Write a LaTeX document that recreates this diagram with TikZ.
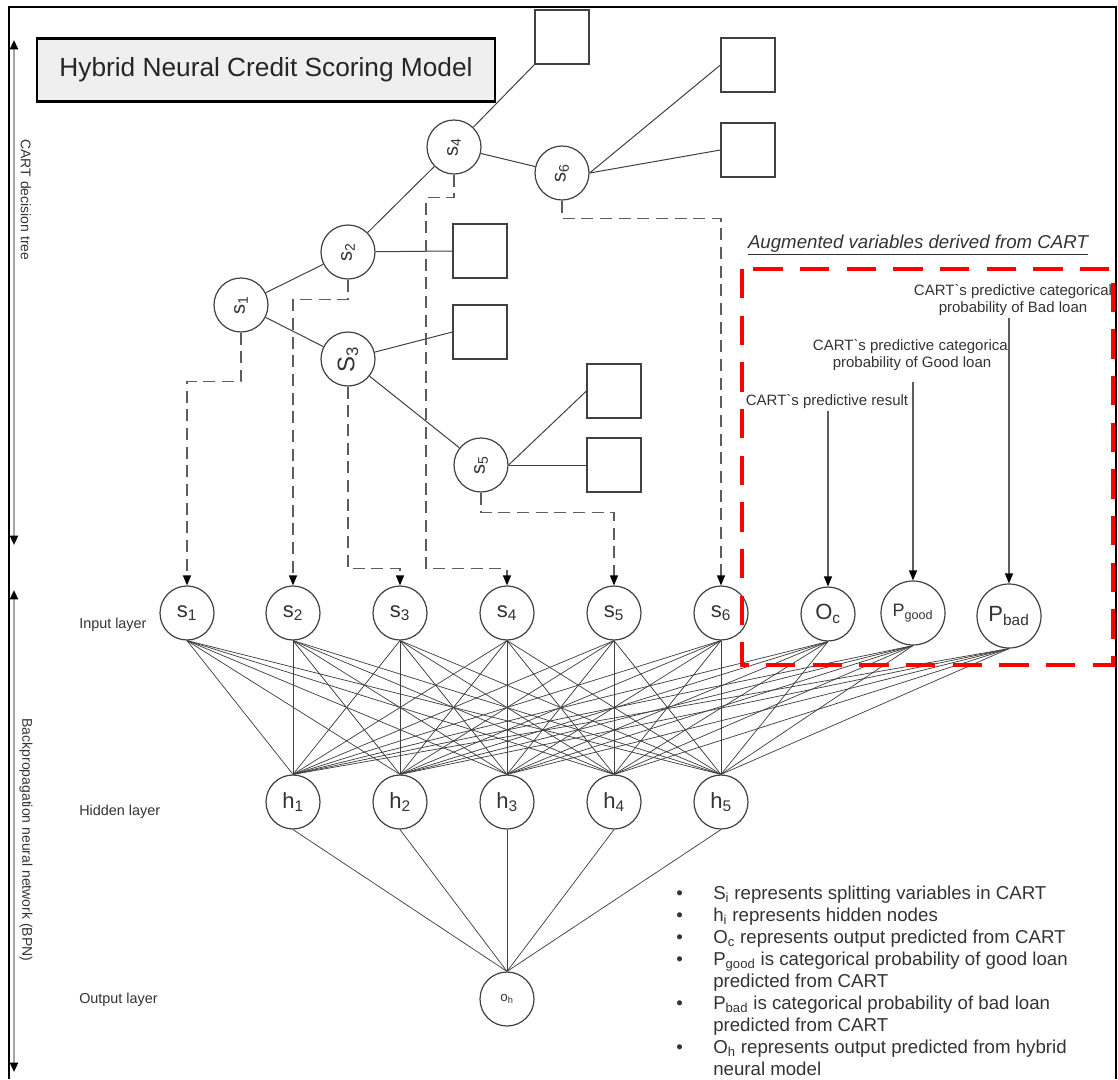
\documentclass[tikz,border=0pt]{standalone}
\usepackage{fontspec}
\setmainfont{Liberation Sans}
\usepackage{graphicx}
\usetikzlibrary{arrows.meta}
\definecolor{ink}{HTML}{404040}
\definecolor{txtgray}{HTML}{333333}
\definecolor{shaftgray}{HTML}{A6A6A6}
\definecolor{titlefill}{HTML}{EFEFEF}
\tikzset{neuron/.style={circle, draw=ink, line width=0.9pt, minimum size=40.5pt, inner sep=0pt, text=txtgray, font=\fontsize{16.5}{18}\selectfont},
  split/.style={neuron, font=\fontsize{15}{16}\selectfont},
  leaf/.style={draw=ink, line width=0.9pt, minimum size=40.5pt, inner sep=0pt},
  branch/.style={ink, line width=0.75pt},
  synapse/.style={ink, line width=0.55pt},
  feed/.style={ink!85, line width=1pt, dash pattern=on 9pt off 5pt, -{Triangle[length=7.5pt, width=6pt, color=black]}},
  pointer/.style={ink!85, line width=0.9pt, -{Triangle[length=7.5pt, width=6pt, color=black]}},
  span/.style={shaftgray, line width=1.6pt, {Triangle[length=7pt, width=6pt, color=black]}-{Triangle[length=7pt, width=6pt, color=black]}},
  note/.style={text=txtgray, font=\fontsize{11.25}{13}\selectfont, inner sep=1.5pt},
  layer/.style={text=txtgray, font=\fontsize{10.8}{12}\selectfont, anchor=west, inner sep=0pt}}
\newcommand{\sv}[2]{#1\textsubscript{#2}}
\newcommand{\tilted}[1]{\rotatebox{90}{#1}}

\begin{document}
\begin{tikzpicture}[x=0.75pt, y=-0.75pt]
\useasboundingbox (0,0) rectangle (1118,1079);
\draw[line width=2pt] (9,1079) -- (9,7) -- (1116,7) -- (1116,1079);
\node[draw, line width=2pt, fill=titlefill, minimum width=343.5pt, minimum height=47pt, font=\fontsize{19.7}{22}\selectfont, text=black!85] (title) at (266,70) {Hybrid Neural Credit Scoring Model};
\coordinate (treetop) at (14,40); \coordinate (treebot) at (14,545);
\coordinate (bpntop) at (14,590); \coordinate (bpnbot) at (14,1072);
\draw[span] (treetop) -- (treebot);
\draw[span] (bpntop) -- (bpnbot);
\node[note, rotate=-90, font=\fontsize{10.5}{12}\selectfont] (treelbl) at (26,200) {CART decision tree};
\node[note, rotate=-90, font=\fontsize{10.5}{12}\selectfont] (bpnlbl) at (26,840) {Backpropagation neural network (BPN)};

\node[split] (t1) at (241,305) {\tilted{\sv{s}{1}}};
\node[split] (t2) at (348,252) {\tilted{\sv{s}{2}}};
\node[split, font=\fontsize{18}{20}\selectfont] (t3) at (348,359) {\tilted{\sv{S}{3}}};
\node[split] (t4) at (454,147) {\tilted{\sv{s}{4}}};
\node[split] (t5) at (481,465) {\tilted{\sv{s}{5}}};
\node[split] (t6) at (562,173) {\tilted{\sv{s}{6}}};
\foreach \n/\x/\y in {l1/562/37, l2/748/65, l3/748/150, l4/480/251, l5/480/332, l6/614/391, l7/614/465}
  \node[leaf] (\n) at (\x,\y) {};
\draw[branch] (t1) -- (t2); \draw[branch] (t1) -- (t3);
\draw[branch] (t2) -- (t4); \draw[branch] (t2) -- (l4.west);
\draw[branch] (t4) -- (l1.south west); \draw[branch] (t4) -- (t6);
\draw[branch] (t3) -- (l5.west); \draw[branch] (t3) -- (t5);
\draw[branch] (t6.east) -- (l2.west); \draw[branch] (t6.east) -- (l3.west);
\draw[branch] (t5.east) -- (l6.west); \draw[branch] (t5.east) -- (l7.west);

\foreach \i/\x in {1/187,2/293,3/400,4/507,5/614,6/721}
  \node[neuron] (in\i) at (\x,613) {\sv{s}{\i}};
\node[neuron] (oc) at (828,614) {\sv{O}{c}};
\node[neuron, minimum size=48pt, font=\fontsize{13.5}{15}\selectfont] (pgood) at (913,613) {\sv{P}{good}};
\node[neuron, minimum size=48pt] (pbad) at (1009,616) {\sv{P}{bad}};
\foreach \i in {1,...,5}
  \node[neuron] (h\i) at (186+107*\i,802) {\sv{h}{\i}};
\node[neuron, font=\fontsize{10}{12}\selectfont] (oh) at (507,999) {\sv{o}{h}};
\node[layer] (inlbl) at (79,625) {Input layer};
\node[layer] (hidlbl) at (79,812) {Hidden layer};
\node[layer] (outlbl) at (79,1000) {Output layer};

\foreach \a in {in1,in2,in3,in4,in5,in6,oc,pgood,pbad}
  \foreach \b in {1,...,5}
    \draw[synapse] (\a.south) -- (h\b.north);
\foreach \b in {1,...,5}
  \draw[synapse] (h\b.south) -- (oh.north);

\draw[feed] (t1.south) -- ++(0,49) -| (in1.north);
\draw[feed] (t2.south) -- ++(0,20) -| (in2.north);
\draw[feed] (t3.south) -- ++(0,182) -| (in3.north);
\draw[feed] (t4.south) -- ++(0,23) -| ++(-28,371) -| (in4.north);
\draw[feed] (t5.south) -- ++(0,20) -| (in5.north);
\draw[feed] (t6.south) -- ++(0,18) -| (in6.north);

\node[note, font=\fontsize{14}{16}\selectfont\itshape] (augtitle) at (918,245) {\underline{Augmented variables derived from CART}};
\node[note] (lbloc) at (827,402) {CART\textasciigrave s predictive result};
\node[note, align=center] (lblgood) at (912,355) {CART\textasciigrave s predictive categorical\\probability of Good loan};
\node[note, align=center] (lblbad) at (1013,300) {CART\textasciigrave s predictive categorical\\probability of Bad loan};
\draw[pointer] (lbloc.south -| oc.north) -- (oc.north);
\draw[pointer, shorten <=7pt] (lblgood.south -| pgood.north) -- (pgood.north);
\draw[pointer] (lblbad.south -| pbad.north) -- (pbad.north);
\draw[red, line width=3pt, dash pattern=on 22pt off 13pt] (742,269) rectangle (1113,665);

\node[anchor=north west, inner sep=0pt, text=txtgray, font=\fontsize{14}{16.5}\selectfont] (notes) at (676,884) {\begin{tabular}{@{}p{27.75pt}@{}l@{}}
\textbullet & \sv{S}{i} represents splitting variables in CART\\
\textbullet & \sv{h}{i} represents hidden nodes\\
\textbullet & \sv{O}{c} represents output predicted from CART\\
\textbullet & \sv{P}{good} is categorical probability of good loan\\
 & predicted from CART\\
\textbullet & \sv{P}{bad} is categorical probability of bad loan\\
 & predicted from CART\\
\textbullet & \sv{O}{h} represents output predicted from hybrid\\
 & neural model
\end{tabular}};
\end{tikzpicture}
\end{document}
